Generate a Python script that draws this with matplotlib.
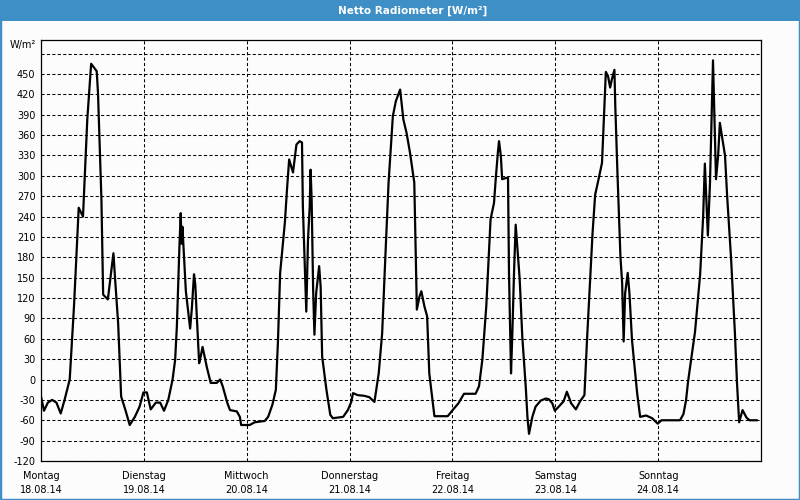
import matplotlib
matplotlib.use("Agg")
import matplotlib.pyplot as plt
from matplotlib.patches import Rectangle

# hours since Montag 18.08.14 00:00, values in W/m²
hours = [0.0, 0.7, 1.6, 2.6, 3.6, 4.6, 5.5, 6.7, 7.7, 8.8, 9.8, 10.8, 11.7, 13.0, 13.3,
         14.1, 14.5, 15.6, 16.9, 17.3, 18.0, 18.7, 19.7, 20.7, 21.9, 23.0, 23.9,
         24.7, 25.6, 26.8, 27.8, 28.7, 29.7, 30.7, 31.3, 31.7, 32.3, 32.6, 32.8, 33.0,
         33.8, 34.8, 35.2, 35.7, 36.0, 36.3, 36.9, 37.3, 37.7, 38.3, 38.7, 39.6, 41.0,
         41.8, 42.4, 43.5, 44.1, 45.7, 46.4, 46.7,
         48.7, 49.85, 51.0, 52.2, 53.0, 54.0, 54.8, 55.3, 55.8, 56.9, 57.4, 57.9, 58.8,
         59.6, 60.35, 60.9, 61.1, 61.6, 61.9, 62.3, 62.7, 62.9, 63.15, 63.5, 63.8, 64.2,
         64.9, 65.25, 65.6, 66.6, 67.5, 68.1, 69.3, 70.5, 71.6, 72.4,
         72.8, 73.9, 75.45, 76.6, 77.8, 78.8, 79.6, 80.35, 81.1, 82.1, 82.8, 83.8, 84.55,
         85.3, 86.1, 87.1, 87.7, 88.3, 88.75, 89.45, 90.1, 90.6, 91.8, 93.7, 94.9, 96.06,
         97.4, 98.7, 99.87, 101.4, 102.2, 102.98, 103.9, 104.5, 104.9, 105.7, 106.1,
         106.6, 106.87, 107.3, 107.6, 108.6, 108.97, 109.2, 109.43, 109.67, 109.98,
         110.37, 110.76, 111.14, 111.7, 112.3, 113.1, 113.5, 113.87, 114.65, 115.4,
         116.6, 117.8, 118.5, 119.3, 119.9,
         120.8, 121.95, 122.7, 123.7, 124.8, 125.8, 126.8, 127.4, 128.2, 128.7, 129.3,
         130.1, 130.9, 131.3, 131.8, 132.3, 132.8, 133.2, 133.8, 134.0, 134.5, 135.2,
         135.6, 135.95, 136.3, 136.9, 137.3, 137.9, 139.1, 139.8, 141.2, 142.6, 143.9,
         144.8, 149.1, 149.9, 150.5, 151.0,
         152.6, 153.8, 154.5, 154.9, 155.6, 156.1, 156.8, 157.5, 158.0, 158.4, 159.1,
         159.6, 160.1, 161.0, 161.9, 162.4, 162.9, 163.7, 164.6, 165.3, 167.0]
values = [-25, -46, -34, -30, -34, -50, -30, 0, 108, 253, 240, 383, 465, 454, 422,
          265, 125, 118, 186, 147, 83, -25, -45, -67, -55, -40, -19,
          -19, -44, -34, -34, -46, -30, 0, 29, 78, 196, 245, 200, 225,
          130, 75, 105, 155, 140, 100, 24, 35, 48, 30, 18, -5, -5,
          0, -10, -35, -45, -47, -55, -67,
          -67, -63, -62, -61, -55, -37, -15, 58, 157, 231, 280, 324, 305,
          346, 351, 349, 255, 157, 100, 206, 255, 309, 265, 132, 66, 127,
          167, 137, 34, -15, -52, -57, -56, -55, -45, -33,
          -20, -23, -24, -26, -33, 9, 68, 181, 290, 388, 410, 427, 383,
          363, 334, 290, 103, 122, 130, 108, 93, 9, -54, -54, -54, -45,
          -35, -21, -21, -21, -10, 29, 108, 186, 236, 260, 295,
          334, 351, 329, 295, 297, 297, 157, 83, 9, 68,
          157, 228, 196, 147, 63, -10, -55, -80, -55, -40,
          -31, -28, -29, -35, -46,
          -40, -32, -18, -35, -44, -32, -23, 58, 157, 216, 272,
          295, 319, 378, 453, 447, 430, 442, 456, 403, 305, 181,
          142, 56, 127, 157, 127, 58, -20, -55, -53, -57, -65,
          -60, -60, -51, -31, -2,
          70, 155, 240, 318, 212, 290, 470, 295, 330, 378, 350,
          330, 270, 180, 70, -5, -63, -45, -56, -60, -60]

day_names = ["Montag", "Dienstag", "Mittwoch", "Donnerstag", "Freitag", "Samstag", "Sonntag"]
day_dates = ["18.08.14", "19.08.14", "20.08.14", "21.08.14", "22.08.14", "23.08.14", "24.08.14"]
y_ticks = list(range(-120, 481, 30))

blue = "#3d8fc6"
bg = "#fbfcfb"

fig = plt.figure(figsize=(8, 5), dpi=100, facecolor=bg)
ax = fig.add_axes([41 / 800, 1 - 461 / 500, 720 / 800, 421 / 500], facecolor=bg)

days = [h / 24 for h in hours]
ax.plot(days, values, color="black", linewidth=1.6, zorder=3)

ax.set_xlim(0, 7)
ax.set_ylim(-120, 500)

ax.set_yticks(y_ticks)
ax.set_yticklabels([str(v) if v <= 450 else "" for v in y_ticks])
ax.set_xticks(range(7))
ax.set_xticklabels([n + "\n" + d for n, d in zip(day_names, day_dates)], linespacing=1.55)

ax.tick_params(length=0, labelsize=7, colors="black")
ax.tick_params(axis="y", pad=4)
ax.tick_params(axis="x", pad=7)
ax.grid(True, color="black", linestyle=(0, (3, 2.2)), linewidth=0.75)
for s in ax.spines.values():
    s.set_linewidth(0.9)
    s.set_color("black")

fig.text(36 / 800, 1 - 45 / 500, "W/m²", ha="right", va="center", fontsize=7)

# title bar and frame
fig.patches.append(Rectangle((0, 1 - 21 / 500), 1, 21 / 500, transform=fig.transFigure,
                             facecolor=blue, edgecolor="none", zorder=0))
fig.patches.append(Rectangle((0, 0), 1, 1, transform=fig.transFigure,
                             facecolor="none", edgecolor=blue, linewidth=2.5, zorder=1))
fig.text(413 / 800, 1 - 10.5 / 500, "Netto Radiometer [W/m²]", ha="center", va="center",
         color="white", fontsize=7.5, fontweight="bold")

fig.savefig("out.png", dpi=100, facecolor=bg)
